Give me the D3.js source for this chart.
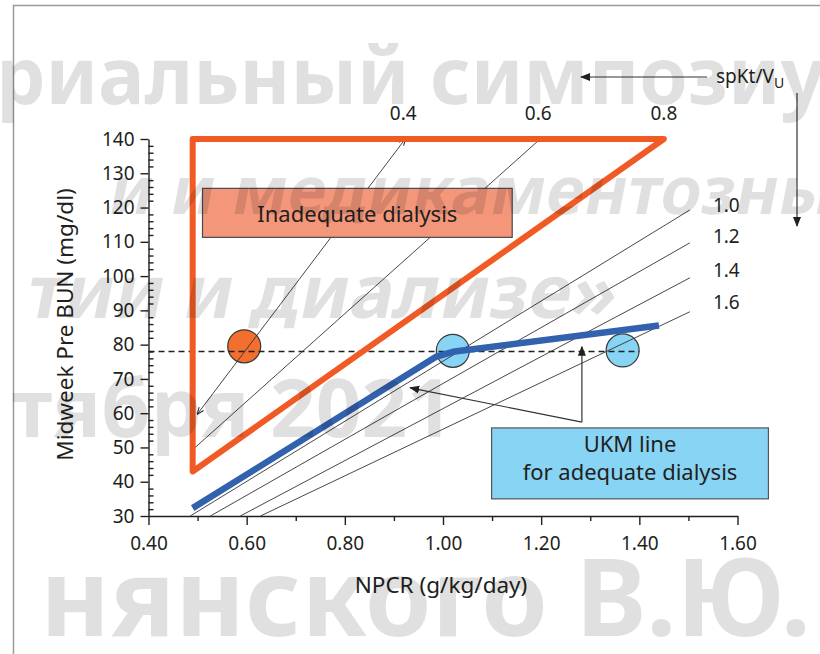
<!DOCTYPE html>
<html>
<head>
<meta charset="utf-8">
<script src="https://cdn.jsdelivr.net/npm/d3@7"></script>
<style>
  body { margin: 0; background: #fff; }
  svg { display: block; font-family: "Noto Sans", "Open Sans", sans-serif; }
</style>
</head>
<body>
<div id="chart"></div>
<script>
// Colour codes.
const ink = "#231f20";
const orange = "#f15a24";
const blue = "#3261ae";
const lightBlue = "#88d4f4";
const salmon = "#f4967a";

// Axis ticks.
const xTicks = [0.4, 0.6, 0.8, 1.0, 1.2, 1.4, 1.6];
const xMinorTicks = [0.5, 0.7, 0.9, 1.1, 1.3, 1.5];
const yTicks = [30, 40, 50, 60, 70, 80, 90, 100, 110, 120, 130, 140];

// spKt/V iso-lines: [NPCR, BUN] end points.
const ktvLabels = ["0.4", "0.6", "1.0", "1.2", "1.4", "1.6"];
const ktvStart = [[0.50, 59.8], [0.495, 50], [0.485, 30], [0.526, 30], [0.587, 30], [0.628, 30]];
const ktvEnd = [[0.923, 140], [1.198, 140], [1.503, 119.3], [1.503, 109.7], [1.503, 99.5], [1.503, 89.6]];

// The 0.8 line closes the "inadequate" triangle.
const triangle = [[0.49, 140], [1.45, 140], [0.49, 43]];
const triangleLabel = "0.8";

// UKM line for adequate dialysis.
const ukmLine = [[0.49, 32.3], [0.985, 76.4], [1.02, 77.9], [1.44, 85.6]];

// Patients.
const orangePoints = [[0.595, 79.5]];
const bluePoints = [[1.02, 78.2], [1.366, 78.3]];

// Dashed BUN level.
const dashedBun = 78;
const dashedNpcr = [0.4, 1.4];

// Watermark lines: text, size, slanted or not.
const watermarkText = ["риальный симпозиу", "и и медикаментозны", "тии и диализе»", "тября 2021", "нянского В.Ю."];

// Set the dimensions and margins of the graph.
var margin = {top: 139, right: 82.5, bottom: 138, left: 148.5},
  width = 820 - margin.left - margin.right,
  height = 654 - margin.top - margin.bottom;

var root = d3.select("#chart")
  .append("svg")
    .attr("width", 820)
    .attr("height", 654);

// Frame round the slide.
root.append("rect")
  .attr("x", 13.5).attr("y", 5.5)
  .attr("width", 820).attr("height", 660)
  .attr("fill", "none")
  .attr("stroke", "#9a9a9a")
  .attr("stroke-width", 1.5);

var defs = root.append("defs");
defs.append("marker")
    .attr("id", "head")
    .attr("viewBox", "0 0 10 10")
    .attr("refX", 9).attr("refY", 5)
    .attr("markerWidth", 10).attr("markerHeight", 10)
    .attr("markerUnits", "userSpaceOnUse")
    .attr("orient", "auto-start-reverse")
  .append("path")
    .attr("d", "M0,1 L10,5 L0,9 Z")
    .attr("fill", ink);
defs.append("marker")
    .attr("id", "tiny")
    .attr("viewBox", "0 0 10 10")
    .attr("refX", 9).attr("refY", 5)
    .attr("markerWidth", 7).attr("markerHeight", 7)
    .attr("markerUnits", "userSpaceOnUse")
    .attr("orient", "auto-start-reverse")
  .append("path")
    .attr("d", "M0,1 L10,5 L0,9")
    .attr("fill", "none")
    .attr("stroke", ink)
    .attr("stroke-width", 1.4);

var svg = root.append("g")
  .attr("transform", "translate(" + margin.left + "," + margin.top + ")");

var x = d3.scaleLinear().domain([0.4, 1.6]).range([0, width]);
var y = d3.scaleLinear().domain([30, 140]).range([height, 0]);

// X axis.
svg.append("g")
    .attr("transform", "translate(0," + height + ")")
    .call(d3.axisBottom(x).tickValues(xMinorTicks).tickSize(5).tickFormat(""))
    .call(g => g.select(".domain").remove());
svg.append("g")
    .attr("transform", "translate(0," + height + ")")
    .style("font-size", "19px")
    .style("font-family", "Noto Sans, sans-serif")
    .call(d3.axisBottom(x).tickValues(xTicks).tickSize(9).tickSizeOuter(0).tickPadding(12).tickFormat(d3.format(".2f")));

// Y axis, minor ticks inside.
svg.append("g")
    .call(d3.axisRight(y).tickValues(d3.range(32, 140, 2).filter(d => d % 10 !== 0)).tickSize(5).tickFormat(""))
    .call(g => g.select(".domain").remove());
svg.append("g")
    .style("font-size", "19px")
    .style("font-family", "Noto Sans, sans-serif")
    .call(d3.axisLeft(y).tickValues(yTicks).tickSize(8).tickSizeOuter(0).tickPadding(6));

svg.selectAll(".domain, .tick line").attr("stroke", ink).attr("stroke-width", 1.4);
svg.selectAll(".tick text").attr("fill", ink);

// Axis titles.
svg.append("text")
    .attr("x", x(1.0) - 2)
    .attr("y", height + 77)
    .attr("text-anchor", "middle")
    .style("font-size", "22.5px")
    .style("fill", ink)
    .text("NPCR (g/kg/day)");
svg.append("text")
    .attr("transform", "rotate(-90)")
    .attr("x", -(y(85) - 3))
    .attr("y", -76)
    .attr("text-anchor", "middle")
    .style("font-size", "22.5px")
    .style("fill", ink)
    .text("Midweek Pre BUN (mg/dl)");

// Patient circles.
svg.selectAll(".pt-orange")
  .data(orangePoints)
  .enter().append("circle")
    .attr("cx", d => x(d[0]))
    .attr("cy", d => y(d[1]))
    .attr("r", 16.5)
    .attr("fill", "#f26f30")
    .attr("stroke", "#3a3a3a")
    .attr("stroke-width", 1.2);
svg.selectAll(".pt-blue")
  .data(bluePoints)
  .enter().append("circle")
    .attr("cx", d => x(d[0]))
    .attr("cy", d => y(d[1]))
    .attr("r", 16.5)
    .attr("fill", lightBlue)
    .attr("stroke", "#3a3a3a")
    .attr("stroke-width", 1.2);

// Dashed line at the common BUN.
svg.append("line")
    .attr("x1", x(dashedNpcr[0]))
    .attr("x2", x(dashedNpcr[1]))
    .attr("y1", y(dashedBun))
    .attr("y2", y(dashedBun))
    .attr("stroke", ink)
    .attr("stroke-width", 1.3)
    .attr("stroke-dasharray", "6,4");

// Thin spKt/V lines.
svg.selectAll(".ktv")
  .data(ktvLabels)
  .enter().append("line")
    .attr("x1", (d, i) => x(ktvStart[i][0]))
    .attr("y1", (d, i) => y(ktvStart[i][1]))
    .attr("x2", (d, i) => x(ktvEnd[i][0]))
    .attr("y2", (d, i) => y(ktvEnd[i][1]))
    .attr("stroke", "#333")
    .attr("stroke-width", 0.9)
    .attr("marker-start", (d, i) => i === 0 ? "url(#tiny)" : null)
    .attr("marker-end", (d, i) => i === 0 ? "url(#tiny)" : null);

// Labels of the spKt/V lines.
svg.selectAll(".ktv-label")
  .data(ktvLabels)
  .enter().append("text")
    .attr("x", (d, i) => ktvEnd[i][1] >= 140 ? x(ktvEnd[i][0]) - 2 : x(ktvEnd[i][0]) + 23)
    .attr("y", (d, i) => ktvEnd[i][1] >= 140 ? y(140) - 19 : y(ktvEnd[i][1]) + 5 - i * 1.5)
    .attr("text-anchor", (d, i) => ktvEnd[i][1] >= 140 ? "middle" : "start")
    .style("font-size", "19px")
    .style("fill", ink)
    .text(d => d);
svg.append("text")
    .attr("x", x(triangle[1][0]))
    .attr("y", y(140) - 19)
    .attr("text-anchor", "middle")
    .style("font-size", "19px")
    .style("fill", ink)
    .text(triangleLabel);

// Inadequate dialysis triangle.
svg.append("path")
    .datum(triangle)
    .attr("d", d3.line().x(d => x(d[0])).y(d => y(d[1])).curve(d3.curveLinearClosed))
    .attr("fill", "none")
    .attr("stroke", orange)
    .attr("stroke-width", 6)
    .attr("stroke-linejoin", "round");

// UKM line.
svg.append("path")
    .datum(ukmLine)
    .attr("d", d3.line().x(d => x(d[0])).y(d => y(d[1])))
    .attr("fill", "none")
    .attr("stroke", blue)
    .attr("stroke-width", 6.5)
    .attr("stroke-linejoin", "round");

// Inadequate dialysis box.
svg.append("rect")
    .attr("x", x(0.51)).attr("y", y(125.6))
    .attr("width", x(1.141) - x(0.51))
    .attr("height", y(111.3) - y(125.6))
    .attr("fill", salmon)
    .attr("stroke", "#4a4a4a")
    .attr("stroke-width", 1.2);
svg.append("text")
    .attr("x", (x(0.51) + x(1.141)) / 2)
    .attr("y", y(115.7))
    .attr("text-anchor", "middle")
    .style("font-size", "22px")
    .style("fill", ink)
    .text("Inadequate dialysis");

// UKM box and its two arrows.
svg.append("rect")
    .attr("x", x(1.099)).attr("y", y(55.7))
    .attr("width", x(1.663) - x(1.099))
    .attr("height", y(35) - y(55.7))
    .attr("fill", lightBlue)
    .attr("stroke", "#555")
    .attr("stroke-width", 1.2);
svg.append("text")
    .attr("x", (x(1.099) + x(1.663)) / 2)
    .attr("y", y(48.8))
    .attr("text-anchor", "middle")
    .style("font-size", "22px")
    .style("fill", ink)
    .text("UKM line");
svg.append("text")
    .attr("x", (x(1.099) + x(1.663)) / 2)
    .attr("y", y(40.4))
    .attr("text-anchor", "middle")
    .style("font-size", "22px")
    .style("fill", ink)
    .text("for adequate dialysis");

const arrowFrom = [x(1.283), y(57.4)];
[[x(0.933), y(67.4)], [x(1.283), y(79.4)]].forEach(p => {
  svg.append("line")
      .attr("x1", arrowFrom[0]).attr("y1", arrowFrom[1])
      .attr("x2", p[0]).attr("y2", p[1])
      .attr("stroke", "#333")
      .attr("stroke-width", 1.2)
      .attr("marker-end", "url(#head)");
});

// spKt/V direction arrows.
root.append("line")
    .attr("x1", 707).attr("y1", 77)
    .attr("x2", 581).attr("y2", 77)
    .attr("stroke", "#333").attr("stroke-width", 1.2)
    .attr("marker-end", "url(#head)");
root.append("line")
    .attr("x1", 797).attr("y1", 93)
    .attr("x2", 797).attr("y2", 226)
    .attr("stroke", "#333").attr("stroke-width", 1.2)
    .attr("marker-end", "url(#head)");
var spk = root.append("text")
    .attr("x", 716).attr("y", 83)
    .style("font-size", "19px")
    .style("fill", ink);
spk.append("tspan").text("spKt/V");
spk.append("tspan").attr("dy", 5).style("font-size", "14px").text("U");

// Watermark across the slide.
const wmPlace = [[-4, 104, 78, 0], [106, 214, 66, -11], [24, 318, 74, -11], [12, 437, 80, 0], [40, 636, 107, 0]];
const watermark = root.append("g")
    .style("font-weight", "700")
    .style("font-family", "Noto Sans, sans-serif")
    .attr("fill", "#000")
    .attr("fill-opacity", 0.12);
watermark.selectAll("g")
  .data(watermarkText)
  .enter().append("g")
    .attr("transform", (d, i) => "translate(" + wmPlace[i][0] + "," + wmPlace[i][1] + ") skewX(" + wmPlace[i][3] + ")")
  .append("text")
    .style("font-size", (d, i) => wmPlace[i][2] + "px")
    .text(d => d);
</script>
</body>
</html>
